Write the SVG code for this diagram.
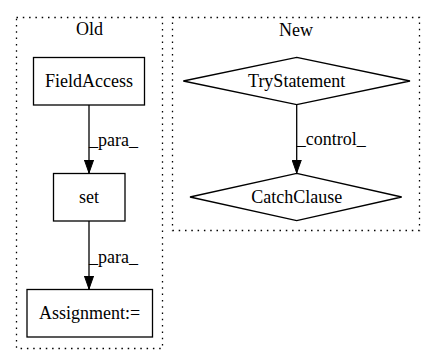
<svg xmlns="http://www.w3.org/2000/svg" width="435" height="364" viewBox="0 0 435 364">
  <defs>
    <marker id="arrow" markerWidth="14" markerHeight="10" refX="13.3" refY="5" orient="auto" markerUnits="userSpaceOnUse">
      <path d="M0,0.3 L13.3,5 L0,9.7 Z" fill="#000" stroke="#000" stroke-width="1"/>
    </marker>
  </defs>
  <style>
    text { font-family: "Liberation Serif", "Times New Roman", serif; font-size: 18px; fill: #000; }
    .cluster { fill: none; stroke: #000; stroke-width: 1.3; stroke-dasharray: 1.5,4.8; }
    .node { fill: #fff; stroke: #000; stroke-width: 1.3; }
    .edge { fill: none; stroke: #000; stroke-width: 1.3; }
    .mid { text-anchor: middle; }
  </style>

  <rect width="435" height="364" fill="#fff"/>

  <!-- clusters -->
  <g id="cluster_old">
    <rect class="cluster" x="16.5" y="17.5" width="146" height="331"/>
    <text class="mid" x="89.5" y="35">Old</text>
  </g>
  <g id="cluster_new">
    <rect class="cluster" x="172.5" y="17.5" width="247" height="213"/>
    <text class="mid" x="296" y="36">New</text>
  </g>

  <!-- nodes -->
  <g id="node_fieldaccess">
    <rect class="node" x="33.5" y="57.5" width="111" height="47.5"/>
    <text class="mid" x="89" y="87">FieldAccess</text>
  </g>
  <g id="node_set">
    <rect class="node" x="53.5" y="173.5" width="71.5" height="47.5"/>
    <text class="mid" x="89" y="203">set</text>
  </g>
  <g id="node_assignment">
    <rect class="node" x="27" y="289.5" width="125.5" height="47.5"/>
    <text class="mid" x="89.5" y="319">Assignment:=</text>
  </g>
  <g id="node_trystatement">
    <polygon class="node" points="296.7,57.3 410,81 296.7,104.7 183.3,81"/>
    <text class="mid" x="296.7" y="87">TryStatement</text>
  </g>
  <g id="node_catchclause">
    <polygon class="node" points="296.7,173.3 401.7,197 296.7,220.7 190,197"/>
    <text class="mid" x="296.7" y="203">CatchClause</text>
  </g>

  <!-- connectors -->
  <g id="connectors">
    <line class="edge" x1="89" y1="105" x2="89" y2="173" marker-end="url(#arrow)"/>
    <text x="89" y="146">_para_</text>
    <line class="edge" x1="89" y1="221" x2="89" y2="289" marker-end="url(#arrow)"/>
    <text x="89" y="263">_para_</text>
    <line class="edge" x1="296.7" y1="104.7" x2="296.7" y2="173" marker-end="url(#arrow)"/>
    <text x="296.7" y="145">_control_</text>
  </g>
</svg>
